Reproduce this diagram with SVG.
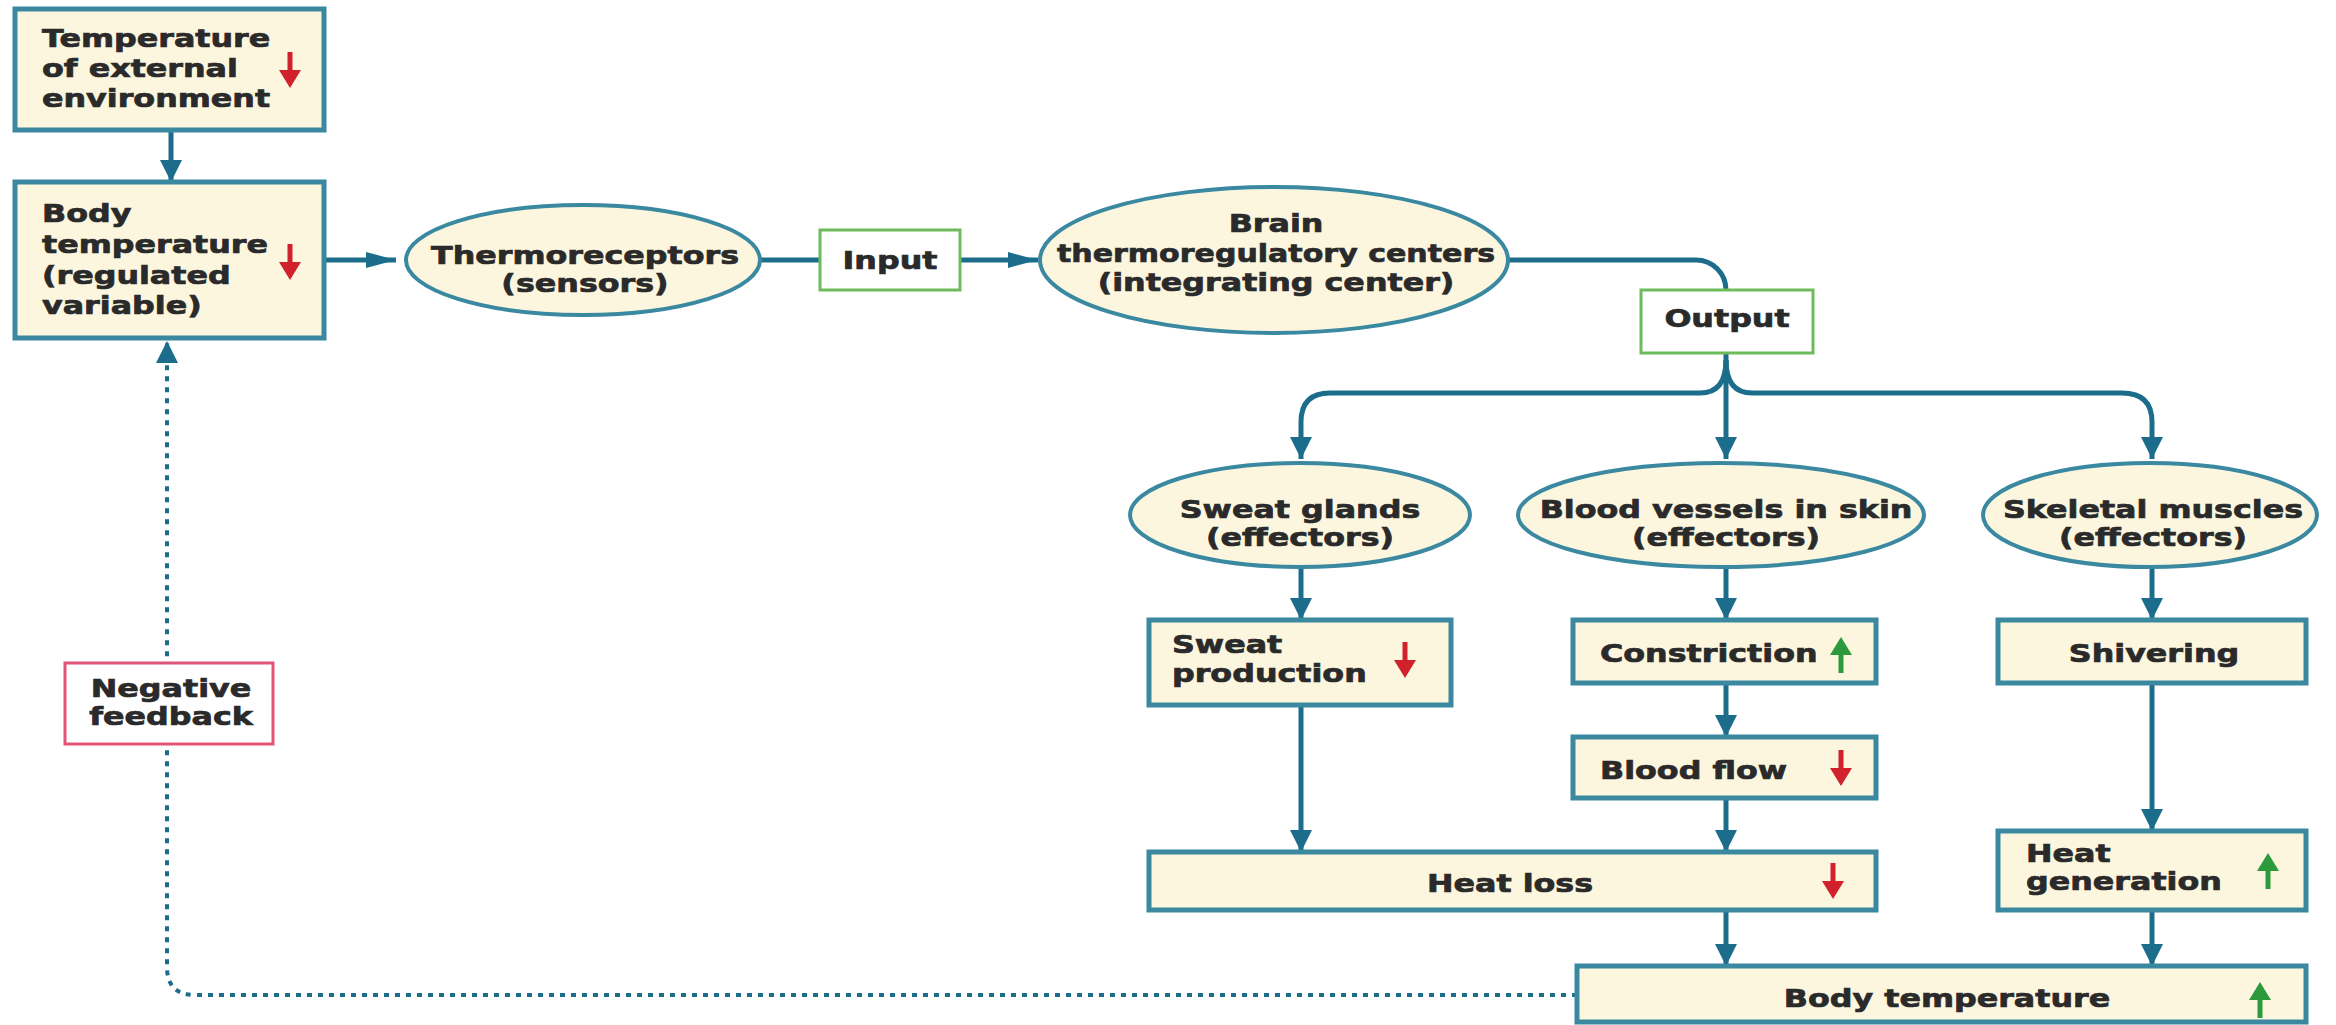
<svg xmlns="http://www.w3.org/2000/svg" width="2336" height="1025" viewBox="0 0 2336 1025">
  <defs>
    <style>
      .box { fill: #fcf6df; stroke: #3a89a1; stroke-width: 5; }
      .oval { fill: #fcf6df; stroke: #3a89a1; stroke-width: 4; }
      .tag { fill: #ffffff; stroke: #6cbc5c; stroke-width: 3; }
      .neg { fill: #ffffff; stroke: #e05577; stroke-width: 3; }
      .lbl { font-family: "DejaVu Sans", "Liberation Sans", sans-serif; font-weight: bold; font-size: 25px; fill: #2a2a2a; stroke: #2a2a2a; stroke-width: 0.7; }
      .mid { text-anchor: middle; }
      .wire { fill: none; stroke: #1c6d8c; stroke-width: 5; }
      .dots { fill: none; stroke: #1c6d8c; stroke-width: 4; stroke-dasharray: 5 6; }
    </style>
    <!-- vertical runs use a broad head, horizontal runs a long slim one -->
    <marker id="ahv" markerUnits="userSpaceOnUse" markerWidth="24" markerHeight="24" refX="22" refY="11" orient="auto">
      <path d="M0,0 L22,11 L0,22 Z" fill="#1c6d8c"/>
    </marker>
    <marker id="ahh" markerUnits="userSpaceOnUse" markerWidth="32" markerHeight="18" refX="30" refY="8" orient="auto">
      <path d="M0,0 L30,8 L0,16 Z" fill="#1c6d8c"/>
    </marker>
    <!-- small trend arrows: decrease (red) and increase (green) -->
    <g id="down">
      <rect x="-2.5" y="-18" width="5" height="20" fill="#d1212c"/>
      <path d="M-11,0 L11,0 L0,18 Z" fill="#d1212c"/>
    </g>
    <g id="up">
      <rect x="-2.5" y="-2" width="5" height="20" fill="#2c9a3c"/>
      <path d="M-11,0 L11,0 L0,-18 Z" fill="#2c9a3c"/>
    </g>
  </defs>

  <rect width="2336" height="1025" fill="#ffffff"/>

  <!-- connectors -->
  <g id="connectors">
    <path class="wire" d="M171,130 V182" marker-end="url(#ahv)"/>
    <path class="wire" d="M324,260 H396" marker-end="url(#ahh)"/>
    <path class="wire" d="M760,260 H820"/>
    <path class="wire" d="M960,260 H1038" marker-end="url(#ahh)"/>
    <path class="wire" d="M1508,260 H1696 A30,30 0 0 1 1726,290"/>
    <path class="wire" d="M1726,353 V459" marker-end="url(#ahv)"/>
    <path class="wire" d="M1726,360 Q1726,393 1700,393 H1330 Q1301,393 1301,422 V459" marker-end="url(#ahv)"/>
    <path class="wire" d="M1726,360 Q1726,393 1752,393 H2122 Q2152,393 2152,422 V459" marker-end="url(#ahv)"/>
    <path class="wire" d="M1301,568 V620" marker-end="url(#ahv)"/>
    <path class="wire" d="M1726,568 V620" marker-end="url(#ahv)"/>
    <path class="wire" d="M2152,568 V620" marker-end="url(#ahv)"/>
    <path class="wire" d="M1301,705 V852" marker-end="url(#ahv)"/>
    <path class="wire" d="M1726,683 V737" marker-end="url(#ahv)"/>
    <path class="wire" d="M1726,798 V852" marker-end="url(#ahv)"/>
    <path class="wire" d="M2152,683 V831" marker-end="url(#ahv)"/>
    <path class="wire" d="M1726,910 V966" marker-end="url(#ahv)"/>
    <path class="wire" d="M2152,910 V966" marker-end="url(#ahv)"/>
    <path class="dots" d="M1577,995 H195 Q167,995 167,967 V341" marker-end="url(#ahv)"/>
  </g>

  <!-- nodes -->
  <g id="external-temp">
    <rect class="box" x="15" y="9" width="309" height="121"/>
    <text class="lbl" transform="translate(42,0) scale(1.27,1)"><tspan x="0" y="47">Temperature</tspan><tspan x="0" y="77">of external</tspan><tspan x="0" y="107">environment</tspan></text>
    <use href="#down" x="290" y="70"/>
  </g>

  <g id="body-temp">
    <rect class="box" x="15" y="182" width="309" height="156"/>
    <text class="lbl" transform="translate(42,0) scale(1.27,1)"><tspan x="0" y="222">Body</tspan><tspan x="0" y="253">temperature</tspan><tspan x="0" y="284">(regulated</tspan><tspan x="0" y="314">variable)</tspan></text>
    <use href="#down" x="290" y="262"/>
  </g>

  <g id="thermoreceptors">
    <ellipse class="oval" cx="583" cy="260" rx="177" ry="55"/>
    <text class="lbl mid" transform="translate(585,0) scale(1.27,1)"><tspan x="0" y="264">Thermoreceptors</tspan><tspan x="0" y="292">(sensors)</tspan></text>
  </g>

  <g id="input">
    <rect class="tag" x="820" y="230" width="140" height="60"/>
    <text class="lbl mid" transform="translate(890,269) scale(1.27,1)">Input</text>
  </g>

  <g id="brain">
    <ellipse class="oval" cx="1274" cy="260" rx="234" ry="73"/>
    <text class="lbl mid" transform="translate(1276,0) scale(1.27,1)"><tspan x="0" y="232">Brain</tspan><tspan x="0" y="262" textLength="345" lengthAdjust="spacingAndGlyphs">thermoregulatory centers</tspan><tspan x="0" y="291">(integrating center)</tspan></text>
  </g>

  <g id="output">
    <rect class="tag" x="1641" y="290" width="172" height="63"/>
    <text class="lbl mid" transform="translate(1727,327) scale(1.27,1)">Output</text>
  </g>

  <g id="sweat-glands">
    <ellipse class="oval" cx="1300" cy="515" rx="170" ry="52"/>
    <text class="lbl mid" transform="translate(1300,0) scale(1.27,1)"><tspan x="0" y="518">Sweat glands</tspan><tspan x="0" y="546">(effectors)</tspan></text>
  </g>

  <g id="blood-vessels">
    <ellipse class="oval" cx="1721" cy="515" rx="203" ry="52"/>
    <text class="lbl mid" transform="translate(1726,0) scale(1.27,1)"><tspan x="0" y="518">Blood vessels in skin</tspan><tspan x="0" y="546">(effectors)</tspan></text>
  </g>

  <g id="skeletal-muscles">
    <ellipse class="oval" cx="2150" cy="515" rx="167" ry="52"/>
    <text class="lbl mid" transform="translate(2153,0) scale(1.27,1)"><tspan x="0" y="518">Skeletal muscles</tspan><tspan x="0" y="546">(effectors)</tspan></text>
  </g>

  <g id="sweat-production">
    <rect class="box" x="1149" y="620" width="302" height="85"/>
    <text class="lbl" transform="translate(1172,0) scale(1.27,1)"><tspan x="0" y="653">Sweat</tspan><tspan x="0" y="682">production</tspan></text>
    <use href="#down" x="1405" y="660"/>
  </g>

  <g id="constriction">
    <rect class="box" x="1573" y="620" width="303" height="63"/>
    <text class="lbl" transform="translate(1600,662) scale(1.27,1)">Constriction</text>
    <use href="#up" x="1841" y="655"/>
  </g>

  <g id="shivering">
    <rect class="box" x="1998" y="620" width="308" height="63"/>
    <text class="lbl mid" transform="translate(2154,662) scale(1.27,1)">Shivering</text>
  </g>

  <g id="blood-flow">
    <rect class="box" x="1573" y="737" width="303" height="61"/>
    <text class="lbl" transform="translate(1600,779) scale(1.27,1)">Blood flow</text>
    <use href="#down" x="1841" y="768"/>
  </g>

  <g id="heat-loss">
    <rect class="box" x="1149" y="852" width="727" height="58"/>
    <text class="lbl mid" transform="translate(1510,892) scale(1.27,1)">Heat loss</text>
    <use href="#down" x="1833" y="881"/>
  </g>

  <g id="heat-generation">
    <rect class="box" x="1998" y="831" width="308" height="79"/>
    <text class="lbl" transform="translate(2026,0) scale(1.27,1)"><tspan x="0" y="862">Heat</tspan><tspan x="0" y="890">generation</tspan></text>
    <use href="#up" x="2268" y="871"/>
  </g>

  <g id="body-temp-result">
    <rect class="box" x="1577" y="966" width="729" height="56"/>
    <text class="lbl mid" transform="translate(1947,1007) scale(1.27,1)">Body temperature</text>
    <use href="#up" x="2260" y="1000"/>
  </g>

  <g id="negative-feedback">
    <rect class="neg" x="65" y="663" width="208" height="81"/>
    <text class="lbl mid" transform="translate(171,0) scale(1.27,1)"><tspan x="0" y="697">Negative</tspan><tspan x="0" y="725">feedback</tspan></text>
  </g>
</svg>
